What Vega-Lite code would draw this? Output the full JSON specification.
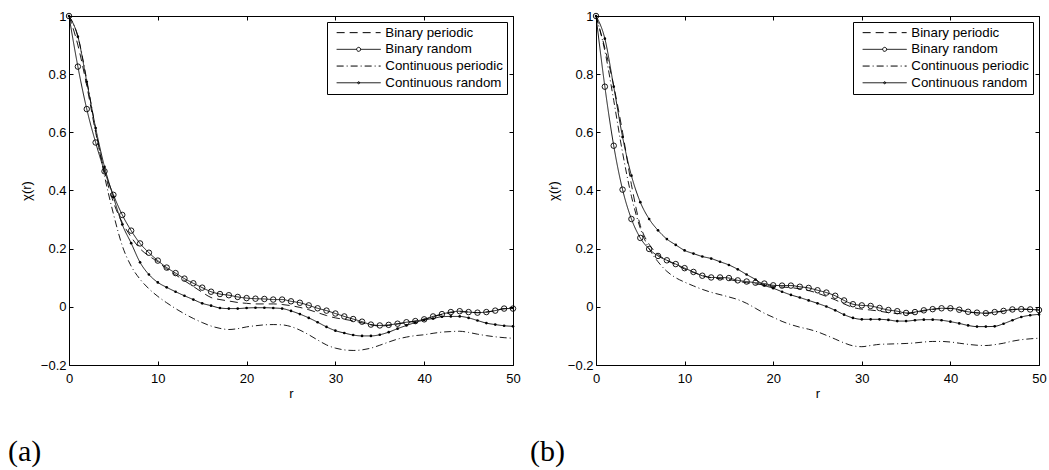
{
"$schema": "https://vega.github.io/schema/vega-lite/v6.json",
"padding": {"left": 7, "top": 9, "right": 0, "bottom": 0},
"background": "white",
"config": {
  "font": "Liberation Sans",
  "view": {"stroke": "black", "strokeWidth": 1},
  "axis": {"grid": false, "domain": false, "tickColor": "black", "tickSize": -4, "tickWidth": 1, "labelColor": "black", "labelFontSize": 13, "labelFlush": false, "labelOverlap": false, "titleColor": "black", "titleFontSize": 13, "titleFontWeight": "normal", "format": "~g"},
  "legend": {"title": null, "orient": "top-right", "offset": 6, "padding": 4, "strokeColor": "black", "fillColor": "white", "cornerRadius": 0, "symbolSize": 144, "symbolStrokeWidth": 1, "symbolStrokeColor": "black", "symbolFillColor": "transparent", "labelFontSize": 13.3, "labelColor": "black", "labelOffset": 20, "rowPadding": 2.7, "symbolOffset": 21, "labelLimit": 300}
},
"datasets": {
"a": [
{"s":"Binary periodic","r":0,"v":1},{"s":"Binary periodic","r":1,"v":0.9},{"s":"Binary periodic","r":2,"v":0.76},{"s":"Binary periodic","r":3,"v":0.6},{"s":"Binary periodic","r":4,"v":0.465},{"s":"Binary periodic","r":5,"v":0.36},{"s":"Binary periodic","r":6,"v":0.29},{"s":"Binary periodic","r":7,"v":0.24},{"s":"Binary periodic","r":8,"v":0.2},{"s":"Binary periodic","r":9,"v":0.175},{"s":"Binary periodic","r":10,"v":0.155},{"s":"Binary periodic","r":11,"v":0.13},{"s":"Binary periodic","r":12,"v":0.11},{"s":"Binary periodic","r":13,"v":0.09},{"s":"Binary periodic","r":14,"v":0.07},{"s":"Binary periodic","r":15,"v":0.05},{"s":"Binary periodic","r":16,"v":0.032},{"s":"Binary periodic","r":17,"v":0.025},{"s":"Binary periodic","r":18,"v":0.02},{"s":"Binary periodic","r":19,"v":0.015},{"s":"Binary periodic","r":20,"v":0.012},{"s":"Binary periodic","r":21,"v":0.01},{"s":"Binary periodic","r":22,"v":0.01},{"s":"Binary periodic","r":23,"v":0.01},{"s":"Binary periodic","r":24,"v":0.008},{"s":"Binary periodic","r":25,"v":0.004},{"s":"Binary periodic","r":26,"v":-0.002},{"s":"Binary periodic","r":27,"v":-0.01},{"s":"Binary periodic","r":28,"v":-0.02},{"s":"Binary periodic","r":29,"v":-0.03},{"s":"Binary periodic","r":30,"v":-0.038},{"s":"Binary periodic","r":31,"v":-0.043},{"s":"Binary periodic","r":32,"v":-0.048},{"s":"Binary periodic","r":33,"v":-0.055},{"s":"Binary periodic","r":34,"v":-0.062},{"s":"Binary periodic","r":35,"v":-0.066},{"s":"Binary periodic","r":36,"v":-0.064},{"s":"Binary periodic","r":37,"v":-0.059},{"s":"Binary periodic","r":38,"v":-0.054},{"s":"Binary periodic","r":39,"v":-0.049},{"s":"Binary periodic","r":40,"v":-0.043},{"s":"Binary periodic","r":41,"v":-0.034},{"s":"Binary periodic","r":42,"v":-0.026},{"s":"Binary periodic","r":43,"v":-0.02},{"s":"Binary periodic","r":44,"v":-0.017},{"s":"Binary periodic","r":45,"v":-0.018},{"s":"Binary periodic","r":46,"v":-0.02},{"s":"Binary periodic","r":47,"v":-0.018},{"s":"Binary periodic","r":48,"v":-0.013},{"s":"Binary periodic","r":49,"v":-0.007},{"s":"Binary periodic","r":50,"v":-0.006},
{"s":"Binary random","r":0,"v":1},{"s":"Binary random","r":1,"v":0.826},{"s":"Binary random","r":2,"v":0.68},{"s":"Binary random","r":3,"v":0.565},{"s":"Binary random","r":4,"v":0.466},{"s":"Binary random","r":5,"v":0.385},{"s":"Binary random","r":6,"v":0.316},{"s":"Binary random","r":7,"v":0.262},{"s":"Binary random","r":8,"v":0.218},{"s":"Binary random","r":9,"v":0.186},{"s":"Binary random","r":10,"v":0.159},{"s":"Binary random","r":11,"v":0.135},{"s":"Binary random","r":12,"v":0.116},{"s":"Binary random","r":13,"v":0.097},{"s":"Binary random","r":14,"v":0.081},{"s":"Binary random","r":15,"v":0.066},{"s":"Binary random","r":16,"v":0.052},{"s":"Binary random","r":17,"v":0.044},{"s":"Binary random","r":18,"v":0.04},{"s":"Binary random","r":19,"v":0.034},{"s":"Binary random","r":20,"v":0.03},{"s":"Binary random","r":21,"v":0.028},{"s":"Binary random","r":22,"v":0.027},{"s":"Binary random","r":23,"v":0.025},{"s":"Binary random","r":24,"v":0.025},{"s":"Binary random","r":25,"v":0.019},{"s":"Binary random","r":26,"v":0.014},{"s":"Binary random","r":27,"v":0.005},{"s":"Binary random","r":28,"v":-0.005},{"s":"Binary random","r":29,"v":-0.013},{"s":"Binary random","r":30,"v":-0.023},{"s":"Binary random","r":31,"v":-0.033},{"s":"Binary random","r":32,"v":-0.042},{"s":"Binary random","r":33,"v":-0.051},{"s":"Binary random","r":34,"v":-0.061},{"s":"Binary random","r":35,"v":-0.064},{"s":"Binary random","r":36,"v":-0.062},{"s":"Binary random","r":37,"v":-0.058},{"s":"Binary random","r":38,"v":-0.053},{"s":"Binary random","r":39,"v":-0.049},{"s":"Binary random","r":40,"v":-0.043},{"s":"Binary random","r":41,"v":-0.033},{"s":"Binary random","r":42,"v":-0.025},{"s":"Binary random","r":43,"v":-0.018},{"s":"Binary random","r":44,"v":-0.015},{"s":"Binary random","r":45,"v":-0.018},{"s":"Binary random","r":46,"v":-0.02},{"s":"Binary random","r":47,"v":-0.018},{"s":"Binary random","r":48,"v":-0.013},{"s":"Binary random","r":49,"v":-0.006},{"s":"Binary random","r":50,"v":-0.006},
{"s":"Continuous periodic","r":0,"v":1},{"s":"Continuous periodic","r":1,"v":0.93},{"s":"Continuous periodic","r":2,"v":0.78},{"s":"Continuous periodic","r":3,"v":0.61},{"s":"Continuous periodic","r":4,"v":0.45},{"s":"Continuous periodic","r":5,"v":0.32},{"s":"Continuous periodic","r":6,"v":0.21},{"s":"Continuous periodic","r":7,"v":0.14},{"s":"Continuous periodic","r":8,"v":0.095},{"s":"Continuous periodic","r":9,"v":0.062},{"s":"Continuous periodic","r":10,"v":0.036},{"s":"Continuous periodic","r":11,"v":0.014},{"s":"Continuous periodic","r":12,"v":-0.006},{"s":"Continuous periodic","r":13,"v":-0.024},{"s":"Continuous periodic","r":14,"v":-0.04},{"s":"Continuous periodic","r":15,"v":-0.054},{"s":"Continuous periodic","r":16,"v":-0.066},{"s":"Continuous periodic","r":17,"v":-0.074},{"s":"Continuous periodic","r":18,"v":-0.078},{"s":"Continuous periodic","r":19,"v":-0.075},{"s":"Continuous periodic","r":20,"v":-0.069},{"s":"Continuous periodic","r":21,"v":-0.065},{"s":"Continuous periodic","r":22,"v":-0.062},{"s":"Continuous periodic","r":23,"v":-0.061},{"s":"Continuous periodic","r":24,"v":-0.062},{"s":"Continuous periodic","r":25,"v":-0.068},{"s":"Continuous periodic","r":26,"v":-0.08},{"s":"Continuous periodic","r":27,"v":-0.096},{"s":"Continuous periodic","r":28,"v":-0.114},{"s":"Continuous periodic","r":29,"v":-0.131},{"s":"Continuous periodic","r":30,"v":-0.142},{"s":"Continuous periodic","r":31,"v":-0.148},{"s":"Continuous periodic","r":32,"v":-0.15},{"s":"Continuous periodic","r":33,"v":-0.148},{"s":"Continuous periodic","r":34,"v":-0.142},{"s":"Continuous periodic","r":35,"v":-0.132},{"s":"Continuous periodic","r":36,"v":-0.121},{"s":"Continuous periodic","r":37,"v":-0.111},{"s":"Continuous periodic","r":38,"v":-0.104},{"s":"Continuous periodic","r":39,"v":-0.099},{"s":"Continuous periodic","r":40,"v":-0.096},{"s":"Continuous periodic","r":41,"v":-0.091},{"s":"Continuous periodic","r":42,"v":-0.087},{"s":"Continuous periodic","r":43,"v":-0.085},{"s":"Continuous periodic","r":44,"v":-0.084},{"s":"Continuous periodic","r":45,"v":-0.088},{"s":"Continuous periodic","r":46,"v":-0.094},{"s":"Continuous periodic","r":47,"v":-0.099},{"s":"Continuous periodic","r":48,"v":-0.103},{"s":"Continuous periodic","r":49,"v":-0.106},{"s":"Continuous periodic","r":50,"v":-0.108},
{"s":"Continuous random","r":0,"v":1},{"s":"Continuous random","r":1,"v":0.929},{"s":"Continuous random","r":2,"v":0.774},{"s":"Continuous random","r":3,"v":0.615},{"s":"Continuous random","r":4,"v":0.481},{"s":"Continuous random","r":5,"v":0.378},{"s":"Continuous random","r":6,"v":0.283},{"s":"Continuous random","r":7,"v":0.219},{"s":"Continuous random","r":8,"v":0.153},{"s":"Continuous random","r":9,"v":0.111},{"s":"Continuous random","r":10,"v":0.084},{"s":"Continuous random","r":11,"v":0.067},{"s":"Continuous random","r":12,"v":0.052},{"s":"Continuous random","r":13,"v":0.038},{"s":"Continuous random","r":14,"v":0.025},{"s":"Continuous random","r":15,"v":0.012},{"s":"Continuous random","r":16,"v":0.004},{"s":"Continuous random","r":17,"v":-0.004},{"s":"Continuous random","r":18,"v":-0.006},{"s":"Continuous random","r":19,"v":-0.006},{"s":"Continuous random","r":20,"v":-0.004},{"s":"Continuous random","r":21,"v":-0.003},{"s":"Continuous random","r":22,"v":-0.003},{"s":"Continuous random","r":23,"v":-0.004},{"s":"Continuous random","r":24,"v":-0.006},{"s":"Continuous random","r":25,"v":-0.014},{"s":"Continuous random","r":26,"v":-0.025},{"s":"Continuous random","r":27,"v":-0.038},{"s":"Continuous random","r":28,"v":-0.053},{"s":"Continuous random","r":29,"v":-0.069},{"s":"Continuous random","r":30,"v":-0.082},{"s":"Continuous random","r":31,"v":-0.09},{"s":"Continuous random","r":32,"v":-0.097},{"s":"Continuous random","r":33,"v":-0.1},{"s":"Continuous random","r":34,"v":-0.1},{"s":"Continuous random","r":35,"v":-0.096},{"s":"Continuous random","r":36,"v":-0.087},{"s":"Continuous random","r":37,"v":-0.075},{"s":"Continuous random","r":38,"v":-0.064},{"s":"Continuous random","r":39,"v":-0.054},{"s":"Continuous random","r":40,"v":-0.045},{"s":"Continuous random","r":41,"v":-0.04},{"s":"Continuous random","r":42,"v":-0.034},{"s":"Continuous random","r":43,"v":-0.033},{"s":"Continuous random","r":44,"v":-0.033},{"s":"Continuous random","r":45,"v":-0.038},{"s":"Continuous random","r":46,"v":-0.047},{"s":"Continuous random","r":47,"v":-0.056},{"s":"Continuous random","r":48,"v":-0.061},{"s":"Continuous random","r":49,"v":-0.065},{"s":"Continuous random","r":50,"v":-0.067}
],
"b": [
{"s":"Binary periodic","r":0,"v":1},{"s":"Binary periodic","r":1,"v":0.89},{"s":"Binary periodic","r":2,"v":0.76},{"s":"Binary periodic","r":3,"v":0.6},{"s":"Binary periodic","r":4,"v":0.42},{"s":"Binary periodic","r":5,"v":0.28},{"s":"Binary periodic","r":6,"v":0.215},{"s":"Binary periodic","r":7,"v":0.18},{"s":"Binary periodic","r":8,"v":0.16},{"s":"Binary periodic","r":9,"v":0.145},{"s":"Binary periodic","r":10,"v":0.13},{"s":"Binary periodic","r":11,"v":0.118},{"s":"Binary periodic","r":12,"v":0.108},{"s":"Binary periodic","r":13,"v":0.1},{"s":"Binary periodic","r":14,"v":0.097},{"s":"Binary periodic","r":15,"v":0.094},{"s":"Binary periodic","r":16,"v":0.088},{"s":"Binary periodic","r":17,"v":0.083},{"s":"Binary periodic","r":18,"v":0.079},{"s":"Binary periodic","r":19,"v":0.075},{"s":"Binary periodic","r":20,"v":0.07},{"s":"Binary periodic","r":21,"v":0.068},{"s":"Binary periodic","r":22,"v":0.066},{"s":"Binary periodic","r":23,"v":0.062},{"s":"Binary periodic","r":24,"v":0.056},{"s":"Binary periodic","r":25,"v":0.047},{"s":"Binary periodic","r":26,"v":0.036},{"s":"Binary periodic","r":27,"v":0.024},{"s":"Binary periodic","r":28,"v":0.01},{"s":"Binary periodic","r":29,"v":-0.002},{"s":"Binary periodic","r":30,"v":-0.008},{"s":"Binary periodic","r":31,"v":-0.011},{"s":"Binary periodic","r":32,"v":-0.015},{"s":"Binary periodic","r":33,"v":-0.02},{"s":"Binary periodic","r":34,"v":-0.023},{"s":"Binary periodic","r":35,"v":-0.024},{"s":"Binary periodic","r":36,"v":-0.02},{"s":"Binary periodic","r":37,"v":-0.014},{"s":"Binary periodic","r":38,"v":-0.009},{"s":"Binary periodic","r":39,"v":-0.006},{"s":"Binary periodic","r":40,"v":-0.006},{"s":"Binary periodic","r":41,"v":-0.011},{"s":"Binary periodic","r":42,"v":-0.018},{"s":"Binary periodic","r":43,"v":-0.021},{"s":"Binary periodic","r":44,"v":-0.022},{"s":"Binary periodic","r":45,"v":-0.019},{"s":"Binary periodic","r":46,"v":-0.015},{"s":"Binary periodic","r":47,"v":-0.01},{"s":"Binary periodic","r":48,"v":-0.008},{"s":"Binary periodic","r":49,"v":-0.009},{"s":"Binary periodic","r":50,"v":-0.011},
{"s":"Binary random","r":0,"v":1},{"s":"Binary random","r":1,"v":0.757},{"s":"Binary random","r":2,"v":0.554},{"s":"Binary random","r":3,"v":0.403},{"s":"Binary random","r":4,"v":0.302},{"s":"Binary random","r":5,"v":0.237},{"s":"Binary random","r":6,"v":0.199},{"s":"Binary random","r":7,"v":0.175},{"s":"Binary random","r":8,"v":0.16},{"s":"Binary random","r":9,"v":0.147},{"s":"Binary random","r":10,"v":0.133},{"s":"Binary random","r":11,"v":0.12},{"s":"Binary random","r":12,"v":0.107},{"s":"Binary random","r":13,"v":0.101},{"s":"Binary random","r":14,"v":0.101},{"s":"Binary random","r":15,"v":0.099},{"s":"Binary random","r":16,"v":0.091},{"s":"Binary random","r":17,"v":0.087},{"s":"Binary random","r":18,"v":0.083},{"s":"Binary random","r":19,"v":0.08},{"s":"Binary random","r":20,"v":0.074},{"s":"Binary random","r":21,"v":0.073},{"s":"Binary random","r":22,"v":0.073},{"s":"Binary random","r":23,"v":0.069},{"s":"Binary random","r":24,"v":0.065},{"s":"Binary random","r":25,"v":0.057},{"s":"Binary random","r":26,"v":0.049},{"s":"Binary random","r":27,"v":0.038},{"s":"Binary random","r":28,"v":0.022},{"s":"Binary random","r":29,"v":0.009},{"s":"Binary random","r":30,"v":0.005},{"s":"Binary random","r":31,"v":0.003},{"s":"Binary random","r":32,"v":-0.004},{"s":"Binary random","r":33,"v":-0.011},{"s":"Binary random","r":34,"v":-0.015},{"s":"Binary random","r":35,"v":-0.021},{"s":"Binary random","r":36,"v":-0.018},{"s":"Binary random","r":37,"v":-0.012},{"s":"Binary random","r":38,"v":-0.008},{"s":"Binary random","r":39,"v":-0.005},{"s":"Binary random","r":40,"v":-0.005},{"s":"Binary random","r":41,"v":-0.01},{"s":"Binary random","r":42,"v":-0.017},{"s":"Binary random","r":43,"v":-0.02},{"s":"Binary random","r":44,"v":-0.022},{"s":"Binary random","r":45,"v":-0.018},{"s":"Binary random","r":46,"v":-0.014},{"s":"Binary random","r":47,"v":-0.009},{"s":"Binary random","r":48,"v":-0.008},{"s":"Binary random","r":49,"v":-0.009},{"s":"Binary random","r":50,"v":-0.011},
{"s":"Continuous periodic","r":0,"v":1},{"s":"Continuous periodic","r":1,"v":0.88},{"s":"Continuous periodic","r":2,"v":0.71},{"s":"Continuous periodic","r":3,"v":0.53},{"s":"Continuous periodic","r":4,"v":0.38},{"s":"Continuous periodic","r":5,"v":0.27},{"s":"Continuous periodic","r":6,"v":0.2},{"s":"Continuous periodic","r":7,"v":0.155},{"s":"Continuous periodic","r":8,"v":0.122},{"s":"Continuous periodic","r":9,"v":0.1},{"s":"Continuous periodic","r":10,"v":0.085},{"s":"Continuous periodic","r":11,"v":0.072},{"s":"Continuous periodic","r":12,"v":0.06},{"s":"Continuous periodic","r":13,"v":0.05},{"s":"Continuous periodic","r":14,"v":0.042},{"s":"Continuous periodic","r":15,"v":0.034},{"s":"Continuous periodic","r":16,"v":0.025},{"s":"Continuous periodic","r":17,"v":0.012},{"s":"Continuous periodic","r":18,"v":-0.005},{"s":"Continuous periodic","r":19,"v":-0.022},{"s":"Continuous periodic","r":20,"v":-0.036},{"s":"Continuous periodic","r":21,"v":-0.05},{"s":"Continuous periodic","r":22,"v":-0.061},{"s":"Continuous periodic","r":23,"v":-0.07},{"s":"Continuous periodic","r":24,"v":-0.077},{"s":"Continuous periodic","r":25,"v":-0.086},{"s":"Continuous periodic","r":26,"v":-0.098},{"s":"Continuous periodic","r":27,"v":-0.111},{"s":"Continuous periodic","r":28,"v":-0.124},{"s":"Continuous periodic","r":29,"v":-0.134},{"s":"Continuous periodic","r":30,"v":-0.137},{"s":"Continuous periodic","r":31,"v":-0.133},{"s":"Continuous periodic","r":32,"v":-0.129},{"s":"Continuous periodic","r":33,"v":-0.128},{"s":"Continuous periodic","r":34,"v":-0.127},{"s":"Continuous periodic","r":35,"v":-0.126},{"s":"Continuous periodic","r":36,"v":-0.124},{"s":"Continuous periodic","r":37,"v":-0.121},{"s":"Continuous periodic","r":38,"v":-0.119},{"s":"Continuous periodic","r":39,"v":-0.119},{"s":"Continuous periodic","r":40,"v":-0.121},{"s":"Continuous periodic","r":41,"v":-0.125},{"s":"Continuous periodic","r":42,"v":-0.129},{"s":"Continuous periodic","r":43,"v":-0.132},{"s":"Continuous periodic","r":44,"v":-0.133},{"s":"Continuous periodic","r":45,"v":-0.13},{"s":"Continuous periodic","r":46,"v":-0.125},{"s":"Continuous periodic","r":47,"v":-0.118},{"s":"Continuous periodic","r":48,"v":-0.113},{"s":"Continuous periodic","r":49,"v":-0.11},{"s":"Continuous periodic","r":50,"v":-0.108},
{"s":"Continuous random","r":0,"v":1},{"s":"Continuous random","r":1,"v":0.922},{"s":"Continuous random","r":2,"v":0.757},{"s":"Continuous random","r":3,"v":0.584},{"s":"Continuous random","r":4,"v":0.451},{"s":"Continuous random","r":5,"v":0.36},{"s":"Continuous random","r":6,"v":0.302},{"s":"Continuous random","r":7,"v":0.263},{"s":"Continuous random","r":8,"v":0.233},{"s":"Continuous random","r":9,"v":0.213},{"s":"Continuous random","r":10,"v":0.194},{"s":"Continuous random","r":11,"v":0.183},{"s":"Continuous random","r":12,"v":0.173},{"s":"Continuous random","r":13,"v":0.166},{"s":"Continuous random","r":14,"v":0.155},{"s":"Continuous random","r":15,"v":0.144},{"s":"Continuous random","r":16,"v":0.129},{"s":"Continuous random","r":17,"v":0.111},{"s":"Continuous random","r":18,"v":0.094},{"s":"Continuous random","r":19,"v":0.074},{"s":"Continuous random","r":20,"v":0.064},{"s":"Continuous random","r":21,"v":0.052},{"s":"Continuous random","r":22,"v":0.041},{"s":"Continuous random","r":23,"v":0.032},{"s":"Continuous random","r":24,"v":0.022},{"s":"Continuous random","r":25,"v":0.012},{"s":"Continuous random","r":26,"v":0.001},{"s":"Continuous random","r":27,"v":-0.012},{"s":"Continuous random","r":28,"v":-0.027},{"s":"Continuous random","r":29,"v":-0.038},{"s":"Continuous random","r":30,"v":-0.043},{"s":"Continuous random","r":31,"v":-0.043},{"s":"Continuous random","r":32,"v":-0.043},{"s":"Continuous random","r":33,"v":-0.045},{"s":"Continuous random","r":34,"v":-0.049},{"s":"Continuous random","r":35,"v":-0.049},{"s":"Continuous random","r":36,"v":-0.046},{"s":"Continuous random","r":37,"v":-0.044},{"s":"Continuous random","r":38,"v":-0.044},{"s":"Continuous random","r":39,"v":-0.046},{"s":"Continuous random","r":40,"v":-0.051},{"s":"Continuous random","r":41,"v":-0.057},{"s":"Continuous random","r":42,"v":-0.064},{"s":"Continuous random","r":43,"v":-0.068},{"s":"Continuous random","r":44,"v":-0.068},{"s":"Continuous random","r":45,"v":-0.067},{"s":"Continuous random","r":46,"v":-0.058},{"s":"Continuous random","r":47,"v":-0.046},{"s":"Continuous random","r":48,"v":-0.035},{"s":"Continuous random","r":49,"v":-0.029},{"s":"Continuous random","r":50,"v":-0.026}
]
},
"spacing": 5,
"resolve": {"scale": {"strokeDash": "independent", "shape": "independent"}, "legend": {"strokeDash": "independent", "shape": "independent"}},
"hconcat": [
{
  "width": 444, "height": 349,
  "data": {"name": "a"},
  "title": {"text": "(a)", "orient": "bottom", "anchor": "start", "frame": "group", "dx": -61, "offset": 37, "font": "Liberation Serif", "fontSize": 30, "fontWeight": "normal", "color": "black"},
  "resolve": {"axis": {"x": "independent", "y": "independent"}},
  "layer": [
    {"layer": [
      {"mark": {"type": "line", "interpolate": "monotone", "stroke": "black", "strokeWidth": 0.9},
       "encoding": {
         "x": {"field": "r", "type": "quantitative", "scale": {"domain": [0, 50], "nice": false, "zero": false}, "axis": {"orient": "bottom", "values": [0,10,20,30,40,50], "labelPadding": 11, "title": "r", "titlePadding": 2, "minExtent": 20, "maxExtent": 20}},
         "y": {"field": "v", "type": "quantitative", "scale": {"domain": [-0.2, 1], "nice": false, "zero": false}, "axis": {"orient": "left", "values": [-0.2,0,0.2,0.4,0.6,0.8,1], "labelPadding": 7, "title": "χ(r)", "titlePadding": 6, "minExtent": 30, "maxExtent": 30}},
         "detail": {"field": "s", "type": "nominal"},
         "strokeDash": {"field": "s", "type": "nominal", "scale": {"domain": ["Binary periodic","Binary random","Continuous periodic","Continuous random"], "range": [[8,5],[1,0],[7,3,1,3],[1,0]]}}
       }},
      {"transform": [{"filter": "datum.s === 'Binary random'"}],
       "mark": {"type": "point", "shape": "circle", "filled": false, "size": 30, "stroke": "black", "strokeWidth": 0.9, "opacity": 1},
       "encoding": {"x": {"field": "r", "type": "quantitative"}, "y": {"field": "v", "type": "quantitative"}}},
      {"transform": [{"filter": "datum.s === 'Continuous random'"}],
       "mark": {"type": "circle", "size": 7, "fill": "black", "opacity": 1},
       "encoding": {"x": {"field": "r", "type": "quantitative"}, "y": {"field": "v", "type": "quantitative"}}}
    ]},
    {"mark": {"type": "point", "opacity": 0},
     "encoding": {
       "x": {"field": "r", "type": "quantitative", "axis": {"orient": "top", "labels": false, "title": null, "values": [0,10,20,30,40,50]}},
       "y": {"field": "v", "type": "quantitative", "axis": {"orient": "right", "labels": false, "title": null, "values": [-0.2,0,0.2,0.4,0.6,0.8,1]}},
       "shape": {"field": "s", "type": "nominal", "scale": {"domain": ["Binary periodic","Binary random","Continuous periodic","Continuous random"], "range": ["M-3.667,0H3.667", "M-3.667,0H-0.333M0.333,0H3.667M0.333,0A0.333,0.333,0,1,1,-0.333,0A0.333,0.333,0,1,1,0.333,0", "M-3.667,0H3.667", "M-3.667,0H3.667M0.17,0A0.17,0.17,0,1,1,-0.17,0A0.17,0.17,0,1,1,0.17,0"]}}
     }}
  ]
},
{
  "width": 443, "height": 349,
  "data": {"name": "b"},
  "title": {"text": "(b)", "orient": "bottom", "anchor": "start", "frame": "group", "dx": -66, "offset": 37, "font": "Liberation Serif", "fontSize": 30, "fontWeight": "normal", "color": "black"},
  "resolve": {"axis": {"x": "independent", "y": "independent"}},
  "layer": [
    {"layer": [
      {"mark": {"type": "line", "interpolate": "monotone", "stroke": "black", "strokeWidth": 0.9},
       "encoding": {
         "x": {"field": "r", "type": "quantitative", "scale": {"domain": [0, 50], "nice": false, "zero": false}, "axis": {"orient": "bottom", "values": [0,10,20,30,40,50], "labelPadding": 11, "title": "r", "titlePadding": 2, "minExtent": 20, "maxExtent": 20}},
         "y": {"field": "v", "type": "quantitative", "scale": {"domain": [-0.2, 1], "nice": false, "zero": false}, "axis": {"orient": "left", "values": [-0.2,0,0.2,0.4,0.6,0.8,1], "labelPadding": 7, "title": "χ(r)", "titlePadding": 6, "minExtent": 30, "maxExtent": 30}},
         "detail": {"field": "s", "type": "nominal"},
         "strokeDash": {"field": "s", "type": "nominal", "scale": {"domain": ["Binary periodic","Binary random","Continuous periodic","Continuous random"], "range": [[8,5],[1,0],[7,3,1,3],[1,0]]}}
       }},
      {"transform": [{"filter": "datum.s === 'Binary random'"}],
       "mark": {"type": "point", "shape": "circle", "filled": false, "size": 30, "stroke": "black", "strokeWidth": 0.9, "opacity": 1},
       "encoding": {"x": {"field": "r", "type": "quantitative"}, "y": {"field": "v", "type": "quantitative"}}},
      {"transform": [{"filter": "datum.s === 'Continuous random'"}],
       "mark": {"type": "circle", "size": 7, "fill": "black", "opacity": 1},
       "encoding": {"x": {"field": "r", "type": "quantitative"}, "y": {"field": "v", "type": "quantitative"}}}
    ]},
    {"mark": {"type": "point", "opacity": 0},
     "encoding": {
       "x": {"field": "r", "type": "quantitative", "axis": {"orient": "top", "labels": false, "title": null, "values": [0,10,20,30,40,50]}},
       "y": {"field": "v", "type": "quantitative", "axis": {"orient": "right", "labels": false, "title": null, "values": [-0.2,0,0.2,0.4,0.6,0.8,1]}},
       "shape": {"field": "s", "type": "nominal", "scale": {"domain": ["Binary periodic","Binary random","Continuous periodic","Continuous random"], "range": ["M-3.667,0H3.667", "M-3.667,0H-0.333M0.333,0H3.667M0.333,0A0.333,0.333,0,1,1,-0.333,0A0.333,0.333,0,1,1,0.333,0", "M-3.667,0H3.667", "M-3.667,0H3.667M0.17,0A0.17,0.17,0,1,1,-0.17,0A0.17,0.17,0,1,1,0.17,0"]}}
     }}
  ]
}
]
}
